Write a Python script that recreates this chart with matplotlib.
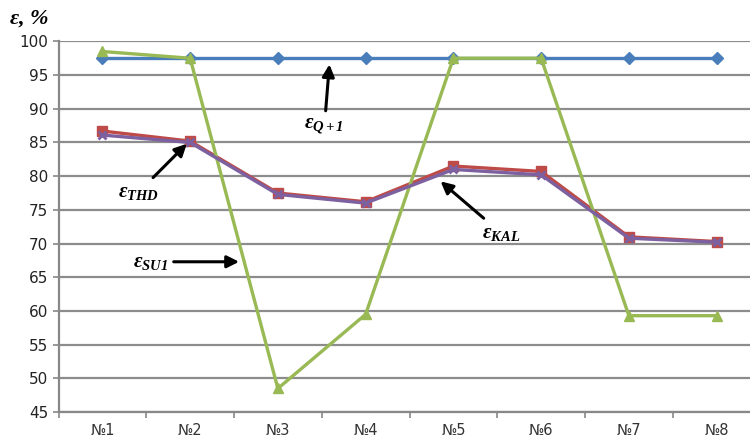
import matplotlib
matplotlib.use("Agg")
import matplotlib.pyplot as plt

plt.rcParams['mathtext.fontset'] = 'custom'
plt.rcParams['mathtext.rm'] = 'Liberation Serif:bold:italic'
plt.rcParams['mathtext.it'] = 'Liberation Serif:bold:italic'
plt.rcParams['mathtext.bf'] = 'Liberation Serif:bold:italic'

# data
labels = ['№1', '№2', '№3', '№4', '№5', '№6', '№7', '№8']
eps_q1 = [97.5, 97.5, 97.5, 97.5, 97.5, 97.5, 97.5, 97.5]
eps_thd = [86.7, 85.2, 77.5, 76.2, 81.5, 80.7, 71.0, 70.3]
eps_su1 = [98.5, 97.5, 48.5, 59.5, 97.5, 97.5, 59.3, 59.3]
eps_kal = [86.1, 85.0, 77.3, 76.0, 81.0, 80.2, 70.8, 70.2]

x = list(range(len(labels)))

fig = plt.figure(figsize=(7.5, 4.45), dpi=100)
ax = fig.add_axes([0.078, 0.074, 0.936, 0.833])

ax.plot(x, eps_q1, color='#4a7ebb', lw=2.4, marker='D', ms=6.5, zorder=3)
ax.plot(x, eps_thd, color='#be4b48', lw=2.4, marker='s', ms=7.5, zorder=4)
ax.plot(x, eps_su1, color='#98b954', lw=2.4, marker='^', ms=7.5, zorder=5)
ax.plot(x, eps_kal, color='#7d60a0', lw=2.4, marker='x', ms=6, mew=2, zorder=6)

ax.set_xlim(-0.5, 7.5)
ax.set_ylim(45, 100)
ax.set_yticks(range(45, 101, 5))
ax.set_xticks(x)
ax.set_xticklabels(labels)
ax.set_xticks([i + 0.5 for i in range(-1, 8)], minor=True)
ax.tick_params(axis='x', which='major', length=0, pad=8, labelsize=10.5, labelcolor='#333333')
ax.tick_params(axis='x', which='minor', length=4, width=1.2, color='#888888')
ax.tick_params(axis='y', length=4, width=1.2, color='#888888', labelsize=11, labelcolor='#222222')
ax.yaxis.grid(True, color='#8c8c8c', lw=1.6)
ax.set_axisbelow(True)
for s in ['top', 'right']:
    ax.spines[s].set_visible(False)
ax.spines['left'].set_color('#888888')
ax.spines['left'].set_linewidth(1.6)
ax.spines['bottom'].set_color('#888888')
ax.spines['bottom'].set_linewidth(1.6)

fig.text(0.012, 0.958, r'$\varepsilon$, %', fontsize=16, family='Liberation Serif',
         fontweight='bold', fontstyle='italic', va='center')

arrow = dict(arrowstyle='-|>', color='black', lw=2.2, mutation_scale=18)
ax.annotate(r'$\varepsilon_{Q+1}$', xy=(2.59, 97.0), xytext=(2.53, 87.4),
            fontsize=15, ha='center', va='center', arrowprops=arrow, zorder=10)
ax.annotate(r'$\varepsilon_{THD}$', xy=(0.985, 85.1), xytext=(0.41, 77.6),
            fontsize=15, ha='center', va='center', arrowprops=arrow, zorder=10)
ax.annotate(r'$\varepsilon_{SU1}$', xy=(1.59, 67.3), xytext=(0.55, 67.3),
            fontsize=15, ha='center', va='center', arrowprops=arrow, zorder=10)
ax.annotate(r'$\varepsilon_{KAL}$', xy=(3.83, 79.5), xytext=(4.54, 71.6),
            fontsize=15, ha='center', va='center', arrowprops=arrow, zorder=10)

fig.savefig('out.png', dpi=100)
